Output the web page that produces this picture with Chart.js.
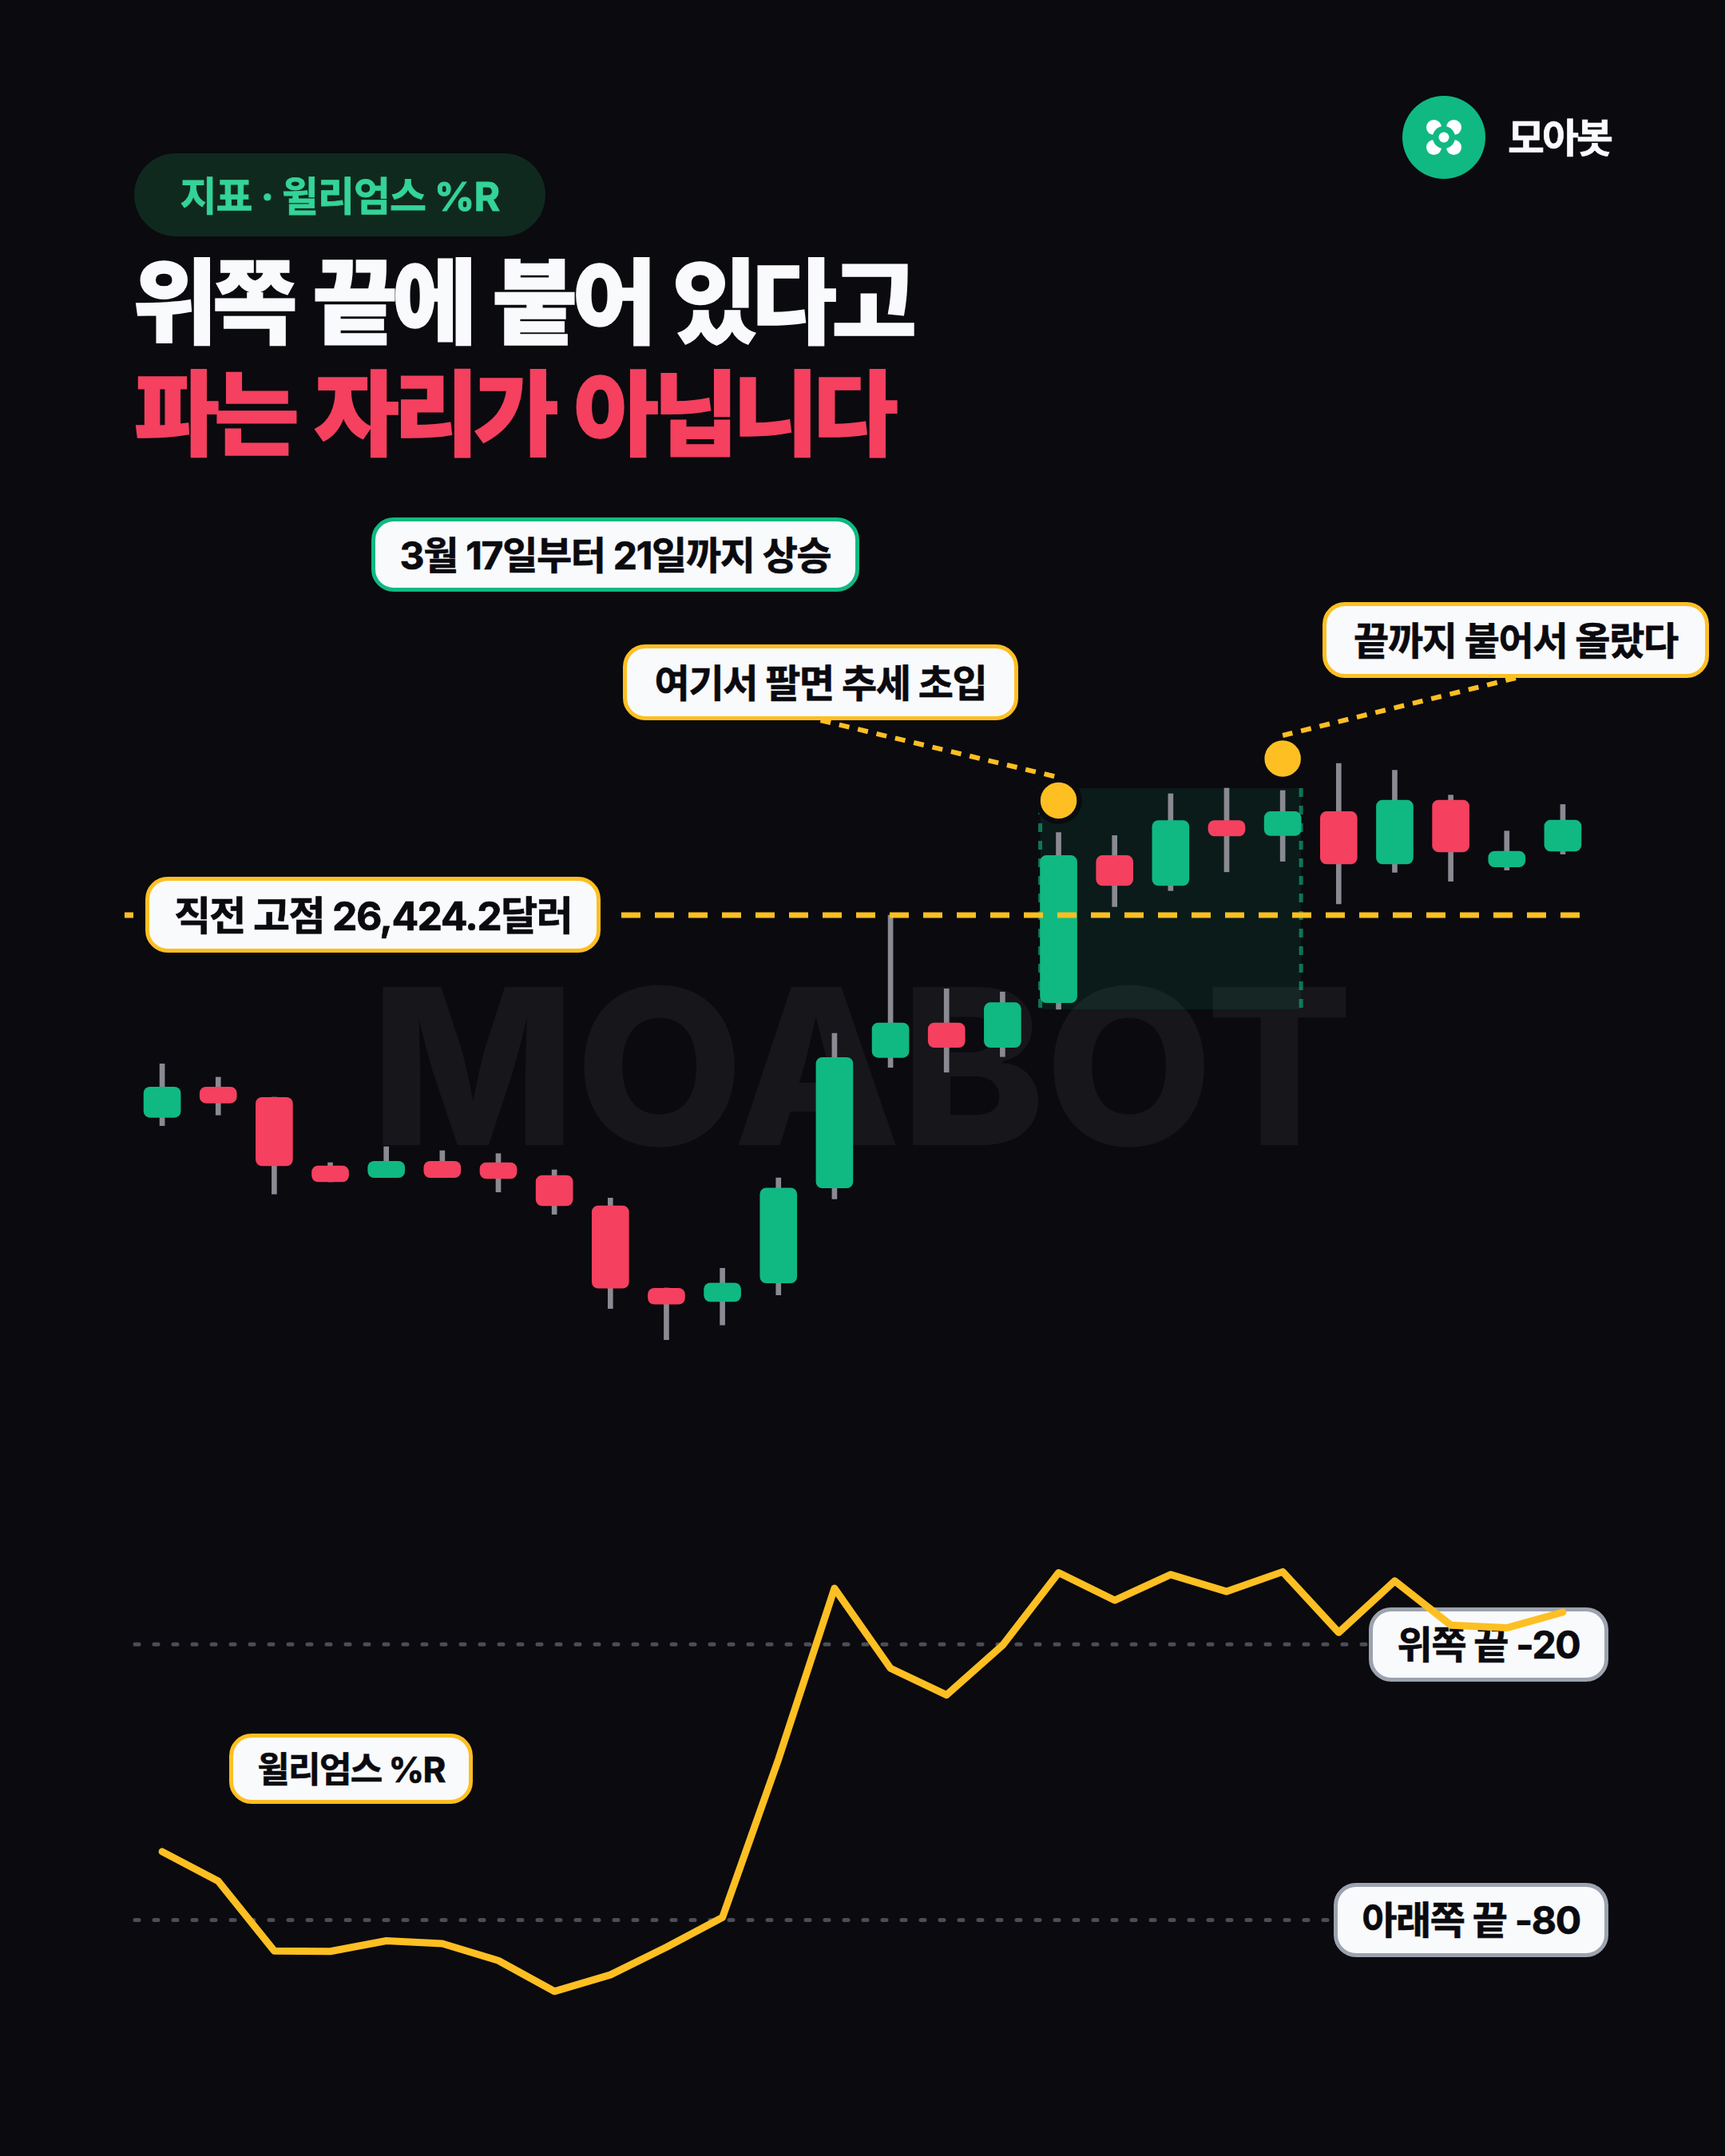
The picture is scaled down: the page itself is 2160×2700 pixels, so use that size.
<!DOCTYPE html>
<html lang="ko">
<head>
<meta charset="utf-8">
<title>윌리엄스 %R</title>
<script src="https://cdn.jsdelivr.net/npm/chart.js@4/dist/chart.umd.min.js"></script>
<style>
  html, body { margin: 0; width: 2160px; height: 2700px; background: #0a0a0f; overflow: hidden; }
  body { position: relative; font-family: Inter, "Noto Sans CJK KR", sans-serif; font-weight: 700; }
  canvas { position: absolute; left: 0; }
  #priceCanvas { top: 740px; z-index: 2; }
  #wrCanvas { top: 1900px; z-index: 2; }

  .abs { position: absolute; white-space: nowrap; }
  .watermark { left: 464px; top: 1170px; font-size: 272px; line-height: 330px; color: #16161b; font-weight: 800; z-index: 0; }
  .pill { left: 168px; top: 192px; width: 515px; height: 104px; border-radius: 52px; background: #10291f; color: #34d399;
          display: flex; align-items: center; justify-content: center; font-size: 50px; letter-spacing: -1px; z-index: 3;
          box-sizing: border-box; padding-bottom: 5px; -webkit-text-stroke: 0.8px #34d399; }
  .title { font-size: 116px; line-height: 140px; font-weight: 900; letter-spacing: -6.8px; word-spacing: 9px; z-index: 3; -webkit-text-stroke: 1.5px currentColor; }
  .brand { left: 1888px; top: 138px; font-size: 50px; line-height: 70px; color: #f9fafc; letter-spacing: -3px; z-index: 3; -webkit-text-stroke: 0.6px #f9fafc; }
  .logo { left: 1756px; top: 120px; width: 104px; height: 104px; z-index: 3; }

  .tag { background: #f9fafc; color: #0a0a0f; border: 5px solid #fdbf22; border-radius: 28px; box-sizing: border-box; padding-bottom: 5px;
         display: flex; align-items: center; justify-content: center; font-size: 48px; letter-spacing: -1.3px; z-index: 3; -webkit-text-stroke: 0.7px #0a0a0f; }
  .tag.green { border-color: #10b981; }
  .tag.grey { border-color: #9ca3af; z-index: 1; padding-bottom: 8px; }
</style>
</head>
<body>

<div class="abs watermark">MOABOT</div>

<div class="abs pill">지표 · 윌리엄스 %R</div>
<div class="abs title" style="left:166px;top:309px;color:#f9fafc">위쪽 끝에 붙어 있다고</div>
<div class="abs title" style="left:168px;top:449px;color:#f5405f">파는 자리가 아닙니다</div>

<svg class="abs logo" viewBox="-52 -52 104 104">
  <circle r="52" fill="#10b981"/>
  <circle cx="-12.5" cy="-12.5" r="9.5" fill="#fff"/>
  <circle cx="12.5" cy="-12.5" r="9.5" fill="#fff"/>
  <circle cx="-12.5" cy="12.5" r="9.5" fill="#fff"/>
  <circle cx="12.5" cy="12.5" r="9.5" fill="#fff"/>
  <circle r="14" fill="#10b981"/>
  <circle r="6.5" fill="#fff"/>
</svg>
<div class="abs brand">모아봇</div>

<div class="abs tag green" style="left:465px;top:648px;width:611px;height:93px">3월 17일부터 21일까지 상승</div>
<div class="abs tag" id="entryTag" style="left:780px;top:807px;width:495px;height:95px">여기서 팔면 추세 초입</div>
<div class="abs tag" id="rideTag" style="left:1656px;top:754px;width:484px;height:95px">끝까지 붙어서 올랐다</div>
<div class="abs tag" style="left:182px;top:1098px;width:570px;height:95px;font-size:50px;letter-spacing:-1.6px;box-shadow:0 0 0 15px #0a0a0f">직전 고점 26,424.2달러</div>
<div class="abs tag" style="left:287px;top:2171px;width:305px;height:88px;font-size:44px;letter-spacing:-1.6px">윌리엄스 %R</div>
<div class="abs tag grey" id="upperTag" style="left:1714px;top:2013px;width:300px;height:93px">위쪽 끝 -20</div>
<div class="abs tag grey" id="lowerTag" style="left:1670px;top:2358px;width:344px;height:93px">아래쪽 끝 -80</div>

<canvas id="priceCanvas"></canvas>
<canvas id="wrCanvas"></canvas>

<script>
const days = ["3/1","3/2","3/3","3/4","3/5","3/6","3/7","3/8","3/9","3/10","3/11","3/12","3/13","3/14","3/15","3/16","3/17","3/18","3/19","3/20","3/21","3/22","3/23","3/24","3/25","3/26"]

const highs  = [24040,23826,23506,22456,22712,22648,22601,22341,21889,20447,20763,22213,24530,26424.2,25243,25192,27749,27699,28370,28459,28421,28856,28746,28348,27772,28197]
const opens  = [23182,23668,23502,22405,22217,22478,22456,22251,21765,20443,20229,20527,22050,24142,24696,24303,25020,27379,26898,27941,27699,28083,27243,28267,27196,27448]
const closes = [23668,23412,22405,22149,22478,22217,22200,21765,20443,20187,20527,22050,24142,24696,24303,25020,27379,26898,27941,27691,28083,27243,28267,27438,27448,27947]
const lows   = [23049,23220,21953,22149,22217,22217,21986,21628,20118,19618,19854,20335,21876,23983,23906,24155,24914,26560,26816,27118,27287,26603,27109,26967,27146,27402]

const williamsR = [-65.1,-71.5,-86.7,-86.8,-84.5,-85.1,-88.8,-95.5,-91.9,-85.9,-79.4,-45,-7.8,-25.2,-31,-20.2,-4.4,-10.4,-4.8,-8.5,-4.2,-17.4,-6.2,-15.8,-16.4,-13]

const prevHigh = 26424.2
const markers = [null,null,null,null,null,null,null,null,null,null,null,null,null,null,null,null,28261,null,null,null,28933,null,null,null,null,null]
const rallyStart = 16
const rallyEnd = 20
const upperBand = -20
const lowerBand = -80

const GREEN = "#10b981"
const RED = "#f5405f"
const AMBER = "#fdbf22"
const BG = "#0a0a0f"
const BODY_WIDTH = 46

Chart.defaults.animation = false
Chart.defaults.devicePixelRatio = 1

const hiddenX = { display: false, offset: true, grid: { display: false } }
// autoPadding off, otherwise the big marker radius squeezes the scale
const panelLayout = { autoPadding: false, padding: { left: 168, right: 168, top: 0, bottom: 0 } }

function setSize(id, height) {
  const c = document.getElementById(id)
  c.width = 2160
  c.height = height
  c.style.width = "2160px"
  c.style.height = height + "px"
  return c
}

// bottom centre and left edge of a label, in canvas coordinates
function tagAnchor(id, canvas) {
  const r = document.getElementById(id).getBoundingClientRect()
  const c = canvas.getBoundingClientRect()
  return { x: r.left + r.width / 2, bottom: r.bottom - c.top, left: r.left }
}

const rallyBox = {
  id: "rallyBox",
  beforeDatasetsDraw(chart) {
    const { ctx, scales: { x, y } } = chart
    const left = x.getPixelForValue(rallyStart) - BODY_WIDTH / 2
    const right = x.getPixelForValue(rallyEnd) + BODY_WIDTH / 2
    const top = y.getPixelForValue(Math.max(...highs.slice(rallyStart, rallyEnd + 1)))
    const bottom = y.getPixelForValue(Math.min(...lows.slice(rallyStart, rallyEnd + 1)))
    ctx.save()
    ctx.fillStyle = "rgba(16, 185, 129, 0.1)"
    ctx.fillRect(left, top, right - left, bottom - top)
    ctx.strokeStyle = "rgba(16, 185, 129, 0.6)"
    ctx.lineWidth = 5
    ctx.setLineDash([11, 11])
    ctx.beginPath()
    ctx.moveTo(left, top)
    ctx.lineTo(left, bottom)
    ctx.moveTo(right, top)
    ctx.lineTo(right, bottom)
    ctx.stroke()
    ctx.restore()
  }
}

const priceOverlay = {
  id: "priceOverlay",
  afterDatasetsDraw(chart) {
    const { ctx, scales: { x, y }, canvas } = chart
    const py = y.getPixelForValue(prevHigh)
    ctx.save()
    // previous high
    ctx.strokeStyle = AMBER
    ctx.lineWidth = 7
    ctx.setLineDash([24, 18])
    ctx.lineDashOffset = 8
    ctx.beginPath()
    ctx.moveTo(chart.chartArea.left - 12, py)
    ctx.lineTo(chart.chartArea.right - 14, py)
    ctx.stroke()

    // callout leaders
    ctx.lineWidth = 6
    ctx.setLineDash([13, 11])
    ctx.lineDashOffset = 0
    const pairs = [["entryTag", rallyStart], ["rideTag", rallyEnd]]
    pairs.forEach(([tag, i]) => {
      const a = tagAnchor(tag, canvas)
      ctx.beginPath()
      ctx.moveTo(a.x, a.bottom)
      ctx.lineTo(x.getPixelForValue(i), y.getPixelForValue(markers[i]) - 29)
      ctx.stroke()
    })
    ctx.restore()
  }
}

new Chart(setSize("priceCanvas", 1000), {
  type: "bar",
  data: {
    labels: days,
    datasets: [
      {
        data: lows.map((l, i) => [l, highs[i]]),
        backgroundColor: "#8a8a93",
        barThickness: 6,
        grouped: false,
        order: 3
      },
      {
        data: opens.map((o, i) => [o, closes[i]]),
        backgroundColor: opens.map((o, i) => closes[i] >= o ? GREEN : RED),
        barThickness: BODY_WIDTH,
        borderRadius: 8,
        borderSkipped: false,
        grouped: false,
        order: 2
      },
      {
        type: "line",
        data: markers,
        showLine: false,
        pointRadius: 26,
        pointBorderWidth: 6.5,
        pointBackgroundColor: AMBER,
        pointBorderColor: BG,
        clip: false,
        order: 1
      }
    ]
  },
  options: {
    responsive: false,
    layout: panelLayout,
    plugins: { legend: { display: false }, tooltip: { enabled: false } },
    scales: {
      x: hiddenX,
      y: { display: false, min: 18821, max: 31621, grid: { display: false } }
    }
  },
  plugins: [rallyBox, priceOverlay]
})

const bandLines = {
  id: "bandLines",
  beforeDatasetsDraw(chart) {
    const { ctx, scales: { y }, canvas } = chart
    ctx.save()
    ctx.strokeStyle = "#4b4d57"
    ctx.lineWidth = 5
    ctx.lineCap = "round"
    ctx.setLineDash([5, 19])
    ;[[upperBand, "upperTag"], [lowerBand, "lowerTag"]].forEach(([v, tag]) => {
      const py = y.getPixelForValue(v)
      ctx.beginPath()
      ctx.moveTo(chart.chartArea.left + 1, py)
      ctx.lineTo(tagAnchor(tag, canvas).left - 4, py)
      ctx.stroke()
    })
    ctx.restore()
  }
}

new Chart(setSize("wrCanvas", 660), {
  type: "line",
  data: {
    labels: days,
    datasets: [{
      data: williamsR,
      borderColor: AMBER,
      borderWidth: 9,
      borderCapStyle: "round",
      borderJoinStyle: "round",
      tension: 0,
      pointRadius: 0
    }]
  },
  options: {
    responsive: false,
    layout: panelLayout,
    plugins: { legend: { display: false }, tooltip: { enabled: false } },
    scales: {
      x: hiddenX,
      y: { display: false, min: -107, max: 7.68, grid: { display: false } }
    }
  },
  plugins: [bandLines]
})
</script>
</body>
</html>
